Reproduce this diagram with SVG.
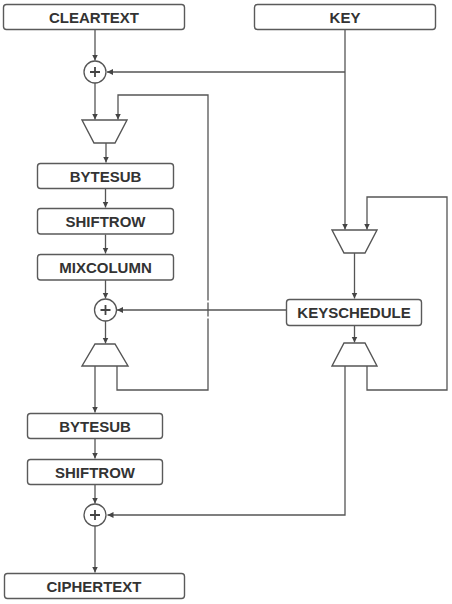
<svg xmlns="http://www.w3.org/2000/svg" width="452" height="604" viewBox="0 0 452 604">
<style>
.box{fill:#fff;stroke:#5a5a5a;stroke-width:1.4}
.lbl{font-family:"Liberation Sans",Arial,sans-serif;font-weight:bold;font-size:15px;fill:#333;text-anchor:middle}
.ln{fill:none;stroke:#555;stroke-width:1.3}
.mux{fill:#fff;stroke:#555;stroke-width:1.4;stroke-linejoin:miter}
.xor{fill:#fff;stroke:#555;stroke-width:1.3}
.plus{stroke:#444;stroke-width:1.8;fill:none}
</style>
<defs>
<marker id="ah" markerUnits="userSpaceOnUse" markerWidth="7" markerHeight="7" refX="6" refY="3" orient="auto">
<path d="M0,0 L6,3 L0,6 z" fill="#444"/>
</marker>
</defs>
<rect width="452" height="604" fill="#fff"/>
<g id="connectors">
<path class="ln" d="M95,29.5 V60.5" marker-end="url(#ah)"/>
<path class="ln" d="M345,29.5 V229.5" marker-end="url(#ah)"/>
<path class="ln" d="M345,72 H107" marker-end="url(#ah)"/>
<path class="ln" d="M95,83 V119.5" marker-end="url(#ah)"/>
<path class="ln" d="M117,366 V390 H208 V318.5"/>
<path class="ln" d="M208,316.5 V302.5"/>
<path class="ln" d="M208,300.5 V95 H118 V119.5" marker-end="url(#ah)"/>
<path class="ln" d="M106,143 V162.5" marker-end="url(#ah)"/>
<path class="ln" d="M105.5,188.5 V207.5" marker-end="url(#ah)"/>
<path class="ln" d="M105.5,234.5 V253.5" marker-end="url(#ah)"/>
<path class="ln" d="M105.5,280 V298.5" marker-end="url(#ah)"/>
<path class="ln" d="M286,310 H117" marker-end="url(#ah)"/>
<path class="ln" d="M105.5,321 V343.5" marker-end="url(#ah)"/>
<path class="ln" d="M95,366 V412.5" marker-end="url(#ah)"/>
<path class="ln" d="M367,366 V390 H447 V197 H367 V229.5" marker-end="url(#ah)"/>
<path class="ln" d="M354.5,253 V298.5" marker-end="url(#ah)"/>
<path class="ln" d="M354.5,325.5 V342.5" marker-end="url(#ah)"/>
<path class="ln" d="M345,366 V515 H107.5" marker-end="url(#ah)"/>
<path class="ln" d="M95,438.5 V458.5" marker-end="url(#ah)"/>
<path class="ln" d="M95,484.5 V503.5" marker-end="url(#ah)"/>
<path class="ln" d="M95,526 V572.5" marker-end="url(#ah)"/>
</g>
<g id="cleartext"><rect class="box" x="3.5" y="4.5" width="181" height="25" rx="3"/><text class="lbl" x="94" y="22.5">CLEARTEXT</text></g>
<g id="key"><rect class="box" x="254.5" y="4.5" width="181" height="25" rx="3"/><text class="lbl" x="345" y="22.5">KEY</text></g>
<g id="xor1"><circle class="xor" cx="95" cy="72" r="11"/><path class="plus" d="M90,72 H100 M95,67 V77"/></g>
<g id="mux1"><polygon class="mux" points="82,120 127,120 115,143 94,143"/></g>
<g id="bytesub1"><rect class="box" x="37.5" y="163.5" width="136" height="25" rx="3"/><text class="lbl" x="105.5" y="181.5">BYTESUB</text></g>
<g id="shiftrow1"><rect class="box" x="37.5" y="208.5" width="136" height="25.5" rx="3"/><text class="lbl" x="105.5" y="226.5">SHIFTROW</text></g>
<g id="mixcolumn"><rect class="box" x="37.5" y="254.5" width="136" height="25.5" rx="3"/><text class="lbl" x="105.5" y="272.5">MIXCOLUMN</text></g>
<g id="xor2"><circle class="xor" cx="105.5" cy="310" r="11"/><path class="plus" d="M100.5,310 H110.5 M105.5,305 V315"/></g>
<g id="mux2"><polygon class="mux" points="95,344 115,344 128,366 82,366"/></g>
<g id="mux3"><polygon class="mux" points="332,230 377,230 365,253 344,253"/></g>
<g id="keyschedule"><rect class="box" x="286.5" y="299.5" width="135" height="26" rx="3"/><text class="lbl" x="354" y="318">KEYSCHEDULE</text></g>
<g id="mux4"><polygon class="mux" points="344,343 365,343 377,366 332,366"/></g>
<g id="bytesub2"><rect class="box" x="27.5" y="413.5" width="135" height="25" rx="3"/><text class="lbl" x="95" y="431.5">BYTESUB</text></g>
<g id="shiftrow2"><rect class="box" x="27.5" y="459.5" width="135" height="25" rx="3"/><text class="lbl" x="95" y="477.5">SHIFTROW</text></g>
<g id="xor3"><circle class="xor" cx="95" cy="515" r="11"/><path class="plus" d="M90,515 H100 M95,510 V520"/></g>
<g id="ciphertext"><rect class="box" x="4.5" y="573.5" width="180" height="25" rx="3"/><text class="lbl" x="94" y="591.5">CIPHERTEXT</text></g>
</svg>
